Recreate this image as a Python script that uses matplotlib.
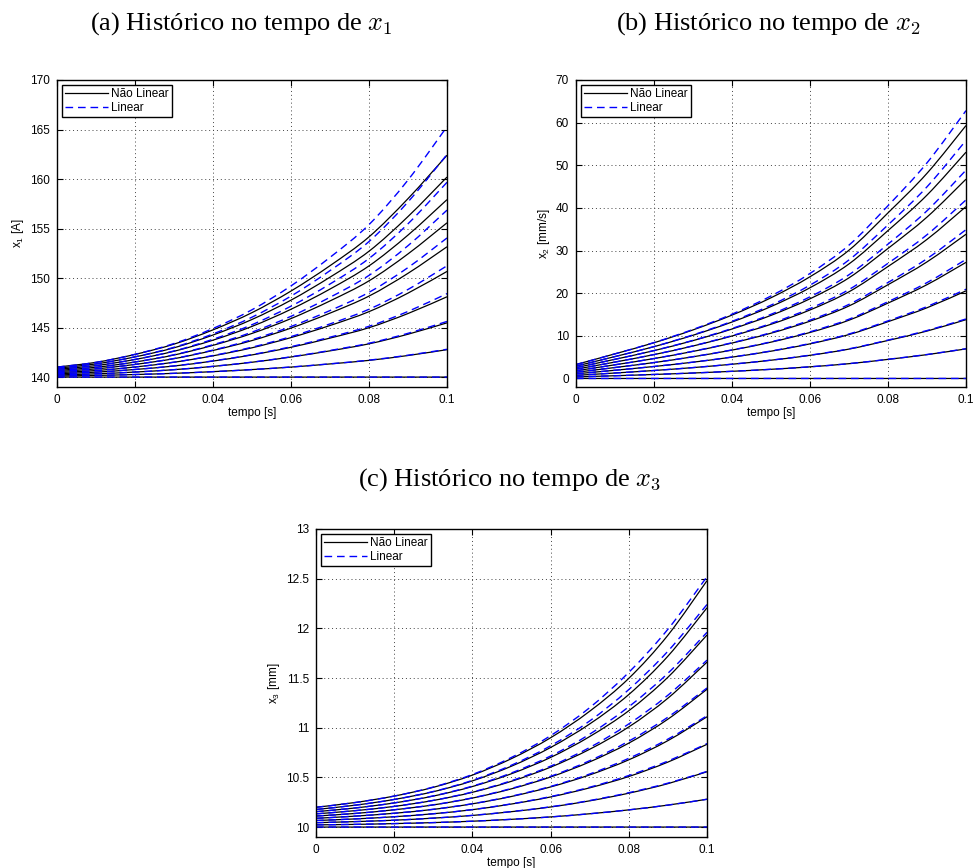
import matplotlib
matplotlib.use("Agg")
import matplotlib.pyplot as plt
from matplotlib.path import Path
from matplotlib.patches import PathPatch
from matplotlib.lines import Line2D

plt.rcParams["font.family"] = ["Liberation Sans", "DejaVu Sans"]
plt.rcParams["mathtext.fontset"] = "custom"
plt.rcParams["mathtext.rm"] = "Liberation Sans"
plt.rcParams["mathtext.it"] = "Liberation Sans:italic"

# time samples [s]
t = [0.00, 0.01, 0.02, 0.03, 0.04, 0.05, 0.06, 0.07, 0.08, 0.09, 0.10]

# x1 [A]: ten initial conditions, nonlinear model
x1_nonlinear = [
    [140.00] * 11,
    [140.11, 140.17, 140.26, 140.38, 140.55, 140.76, 141.01, 141.33, 141.69, 142.18, 142.77],
    [140.22, 140.33, 140.51, 140.75, 141.08, 141.50, 142.03, 142.65, 143.36, 144.33, 145.48],
    [140.34, 140.50, 140.77, 141.12, 141.62, 142.24, 143.01, 143.94, 144.99, 146.42, 148.11],
    [140.45, 140.66, 141.02, 141.50, 142.15, 142.96, 143.99, 145.21, 146.61, 148.48, 150.67],
    [140.56, 140.83, 141.28, 141.86, 142.69, 143.69, 144.95, 146.46, 148.18, 150.48, 153.16],
    [140.67, 140.99, 141.52, 142.23, 143.21, 144.41, 145.91, 147.69, 149.72, 152.44, 155.58],
    [140.79, 141.16, 141.78, 142.61, 143.73, 145.12, 146.85, 148.89, 151.23, 154.34, 157.92],
    [140.90, 141.33, 142.04, 142.96, 144.25, 145.82, 147.77, 150.09, 152.71, 156.21, 160.20],
    [141.01, 141.49, 142.29, 143.33, 144.77, 146.51, 148.69, 151.25, 154.16, 158.02, 162.40],
]
# x1 [A]: linearised model
x1_linear = [
    [140.00] * 11,
    [140.11, 140.17, 140.26, 140.38, 140.55, 140.76, 141.02, 141.34, 141.71, 142.21, 142.81],
    [140.22, 140.33, 140.51, 140.75, 141.09, 141.51, 142.05, 142.69, 143.42, 144.42, 145.62],
    [140.34, 140.50, 140.77, 141.13, 141.64, 142.27, 143.07, 144.03, 145.13, 146.63, 148.43],
    [140.45, 140.66, 141.02, 141.51, 142.18, 143.02, 144.09, 145.37, 146.85, 148.85, 151.24],
    [140.56, 140.83, 141.28, 141.88, 142.73, 143.78, 145.11, 146.72, 148.56, 151.06, 154.05],
    [140.67, 140.99, 141.53, 142.26, 143.27, 144.54, 146.14, 148.06, 150.27, 153.27, 156.86],
    [140.79, 141.16, 141.79, 142.64, 143.82, 145.29, 147.16, 149.40, 151.98, 155.48, 159.67],
    [140.90, 141.33, 142.05, 143.01, 144.36, 146.05, 148.18, 150.75, 153.69, 157.69, 162.48],
    [141.01, 141.49, 142.30, 143.39, 144.91, 146.80, 149.21, 152.09, 155.40, 159.90, 165.29],
]

# x2 [mm/s]
x2_nonlinear = [
    [0.00] * 11,
    [0.36, 0.64, 0.94, 1.28, 1.68, 2.15, 2.73, 3.47, 4.48, 5.59, 6.94],
    [0.73, 1.28, 1.87, 2.55, 3.34, 4.28, 5.43, 6.89, 8.92, 11.12, 13.79],
    [1.09, 1.93, 2.81, 3.82, 5.01, 6.40, 8.12, 10.30, 13.32, 16.58, 20.55],
    [1.45, 2.57, 3.73, 5.09, 6.66, 8.52, 10.79, 13.67, 17.68, 22.00, 27.23],
    [1.81, 3.21, 4.67, 6.35, 8.31, 10.62, 13.44, 17.01, 21.99, 27.34, 33.82],
    [2.18, 3.85, 5.60, 7.62, 9.96, 12.71, 16.07, 20.33, 26.26, 32.62, 40.32],
    [2.54, 4.50, 6.53, 8.88, 11.60, 14.80, 18.69, 23.61, 30.50, 37.85, 46.74],
    [2.90, 5.14, 7.46, 10.14, 13.24, 16.87, 21.28, 26.87, 34.69, 43.01, 53.07],
    [3.27, 5.78, 8.38, 11.39, 14.87, 18.93, 23.86, 30.09, 38.84, 48.12, 59.32],
]
x2_linear = [
    [0.00] * 11,
    [0.36, 0.64, 0.94, 1.28, 1.68, 2.15, 2.74, 3.48, 4.50, 5.62, 6.98],
    [0.73, 1.28, 1.87, 2.55, 3.35, 4.30, 5.47, 6.95, 9.00, 11.24, 13.96],
    [1.09, 1.93, 2.81, 3.83, 5.03, 6.45, 8.21, 10.43, 13.51, 16.86, 20.94],
    [1.45, 2.57, 3.74, 5.11, 6.70, 8.60, 10.94, 13.90, 18.01, 22.48, 27.92],
    [1.81, 3.21, 4.68, 6.39, 8.38, 10.75, 13.68, 17.38, 22.51, 28.09, 34.90],
    [2.18, 3.85, 5.61, 7.66, 10.05, 12.90, 16.42, 20.86, 27.01, 33.71, 41.88],
    [2.54, 4.50, 6.55, 8.94, 11.73, 15.05, 19.15, 24.33, 31.51, 39.33, 48.86],
    [2.90, 5.14, 7.48, 10.22, 13.40, 17.20, 21.89, 27.81, 36.02, 44.95, 55.84],
    [3.27, 5.78, 8.42, 11.50, 15.08, 19.35, 24.63, 31.28, 40.52, 50.57, 62.82],
]

# x3 [mm]
x3_nonlinear = [
    [10.000] * 11,
    [10.022, 10.027, 10.035, 10.045, 10.059, 10.078, 10.102, 10.134, 10.173, 10.221, 10.280],
    [10.044, 10.055, 10.069, 10.090, 10.117, 10.155, 10.202, 10.264, 10.341, 10.437, 10.557],
    [10.066, 10.082, 10.104, 10.134, 10.175, 10.232, 10.303, 10.395, 10.509, 10.654, 10.833],
    [10.088, 10.110, 10.139, 10.178, 10.234, 10.308, 10.404, 10.525, 10.677, 10.870, 11.110],
    [10.111, 10.137, 10.174, 10.223, 10.292, 10.385, 10.504, 10.656, 10.845, 11.086, 11.387],
    [10.133, 10.165, 10.208, 10.268, 10.350, 10.461, 10.603, 10.783, 11.008, 11.297, 11.660],
    [10.155, 10.192, 10.243, 10.312, 10.408, 10.537, 10.701, 10.911, 11.171, 11.508, 11.933],
    [10.177, 10.220, 10.278, 10.356, 10.465, 10.613, 10.801, 11.038, 11.334, 11.720, 12.207],
    [10.199, 10.247, 10.312, 10.400, 10.523, 10.689, 10.899, 11.166, 11.497, 11.931, 12.480],
]
x3_linear = [
    [10.000] * 11,
    [10.022, 10.027, 10.035, 10.045, 10.059, 10.078, 10.102, 10.134, 10.173, 10.221, 10.280],
    [10.044, 10.055, 10.069, 10.090, 10.118, 10.156, 10.204, 10.267, 10.346, 10.442, 10.560],
    [10.066, 10.082, 10.104, 10.134, 10.176, 10.234, 10.307, 10.401, 10.519, 10.664, 10.840],
    [10.088, 10.110, 10.139, 10.179, 10.235, 10.311, 10.409, 10.534, 10.692, 10.885, 11.120],
    [10.111, 10.137, 10.174, 10.224, 10.294, 10.389, 10.511, 10.668, 10.865, 11.106, 11.400],
    [10.133, 10.165, 10.208, 10.269, 10.353, 10.467, 10.613, 10.801, 11.038, 11.327, 11.680],
    [10.155, 10.192, 10.243, 10.314, 10.412, 10.545, 10.715, 10.935, 11.211, 11.548, 11.960],
    [10.177, 10.220, 10.278, 10.358, 10.470, 10.623, 10.818, 11.068, 11.384, 11.770, 12.240],
    [10.199, 10.247, 10.312, 10.403, 10.529, 10.701, 10.920, 11.202, 11.557, 11.991, 12.520],
]

x_ticks = [0, 0.02, 0.04, 0.06, 0.08, 0.1]
x_tick_labels = ["0", "0.02", "0.04", "0.06", "0.08", "0.1"]

x1_ticks = [140, 145, 150, 155, 160, 165, 170]
x2_ticks = [0, 10, 20, 30, 40, 50, 60, 70]
x3_ticks = [10, 10.5, 11, 11.5, 12, 12.5, 13]
x3_tick_labels = ["10", "10.5", "11", "11.5", "12", "12.5", "13"]

titles = [r"(a) Histórico no tempo de $x_1$",
          r"(b) Histórico no tempo de $x_2$",
          r"(c) Histórico no tempo de $x_3$"]
y_labels = [r"x$_1$ [A]", r"x$_2$ [mm/s]", r"x$_3$ [mm]"]

NL_STYLE = dict(color="black", lw=0.9)
LIN_STYLE = dict(color=(0, 0, 1), lw=1.0, ls=(0, (5.5, 3.5)))

W, H = 973, 868
fig = plt.figure(figsize=(W / 100, H / 100), dpi=100)


def px_axes(left, top, right, bottom):
    return fig.add_axes([left / W, 1 - bottom / H, (right - left) / W, (bottom - top) / H])


def smooth_curve(ax, xs, ys, z, **style):
    """Draw the samples as one smooth (Catmull-Rom) path through every point."""
    pts = list(zip(xs, ys))
    n = len(pts)
    verts = [pts[0]]
    codes = [Path.MOVETO]
    for i in range(n - 1):
        p0 = pts[max(i - 1, 0)]
        p1 = pts[i]
        p2 = pts[i + 1]
        p3 = pts[min(i + 2, n - 1)]
        c1 = (p1[0] + (p2[0] - p0[0]) / 6, p1[1] + (p2[1] - p0[1]) / 6)
        c2 = (p2[0] - (p3[0] - p1[0]) / 6, p2[1] - (p3[1] - p1[1]) / 6)
        verts += [c1, c2, p2]
        codes += [Path.CURVE4] * 3
    patch = PathPatch(Path(verts, codes), fill=False, edgecolor=style["color"],
                      lw=style["lw"], linestyle=style.get("ls", "-"),
                      capstyle="butt", joinstyle="round", zorder=z)
    ax.add_patch(patch)


def draw_panel(ax, nl, lin, ylim, yticks, yticklabels, ylabel):
    for curve in nl:
        smooth_curve(ax, t, curve, 2.0, **NL_STYLE)
    for curve in lin:
        smooth_curve(ax, t, curve, 2.1, **LIN_STYLE)
    ax.set_xlim(0, 0.1)
    ax.set_ylim(*ylim)
    ax.set_xticks(x_ticks)
    ax.set_xticklabels(x_tick_labels)
    ax.set_yticks(yticks)
    ax.set_yticklabels(yticklabels if yticklabels else [str(v) for v in yticks])
    ax.grid(True, ls=(0, (1, 3)), color="#444444", lw=0.7)
    ax.tick_params(direction="in", top=True, right=True, length=4, width=0.8,
                   labelsize=8.5, pad=5)
    for s in ax.spines.values():
        s.set_linewidth(1.0)
        s.set_zorder(3)
    ax.set_xlabel("tempo [s]", fontsize=8.5, labelpad=1)
    ax.set_ylabel(ylabel, fontsize=8.5, labelpad=3)
    handles = [Line2D([], [], **NL_STYLE), Line2D([], [], **LIN_STYLE)]
    leg = ax.legend(handles, ["Não Linear", "Linear"], loc="upper left",
                    fontsize=8.5, fancybox=False, framealpha=1, edgecolor="black",
                    handlelength=3.6, handletextpad=0.3, borderpad=0.25,
                    labelspacing=0.15, borderaxespad=0.45)
    leg.get_frame().set_linewidth(1.0)
    leg.set_zorder(5)


ax_a = px_axes(57, 80, 447, 387)
draw_panel(ax_a, x1_nonlinear, x1_linear, (139, 170), x1_ticks, None, y_labels[0])

ax_b = px_axes(576, 80, 966, 387)
draw_panel(ax_b, x2_nonlinear, x2_linear, (-2, 70), x2_ticks, None, y_labels[1])

ax_c = px_axes(316, 529, 707, 837)
draw_panel(ax_c, x3_nonlinear, x3_linear, (9.9, 13), x3_ticks, x3_tick_labels, y_labels[2])

title_pos = [(241, 30), (768, 30), (510, 486)]
for (x, y), txt in zip(title_pos, titles):
    fig.text(x / W, 1 - y / H, txt, ha="center", va="baseline", fontsize=19,
             family="Liberation Serif", math_fontfamily="cm")

fig.savefig("out.png", dpi=100)
